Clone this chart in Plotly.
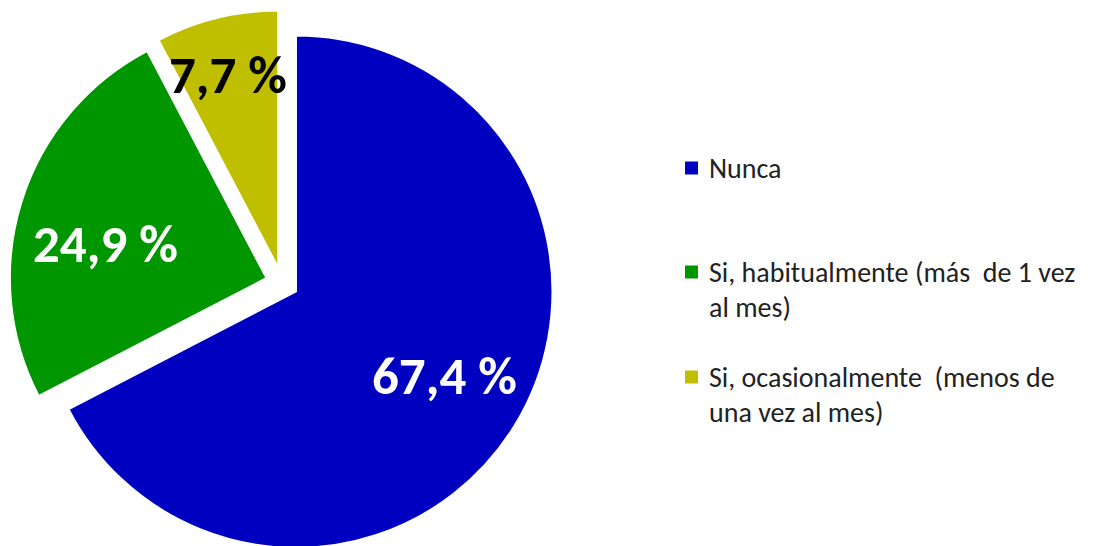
import math
import plotly.graph_objects as go

# ---- data ----
categories = ["Nunca",
              "Si, habitualmente (más  de 1 vez al mes)",
              "Si, ocasionalmente  (menos de una vez al mes)"]
values = [67.4, 24.9, 7.7]
legend_lines = [["Nunca"],
                ["Si, habitualmente (más\u00a0 de 1 vez", "al mes)"],
                ["Si, ocasionalmente\u00a0 (menos de", "una vez al mes)"]]

# ---- style ----
colors = ["#0000C0", "#009600", "#BFBF00"]
label_colors = ["white", "white", "black"]
label_radius = [0.665, 0.64, 0.775]
label_frac = [0.493, 0.44, 0.47]
OFF = 8  # page body margin
W, H = 1094, 560
cx, cy, r = 282 - OFF, 283 - OFF, 256
pull = 0.065
R = r * (1 + pull)

dom_x = [(cx - R) / W, (cx + R) / W]
dom_y = [1 - (cy + R) / H, 1 - (cy - R) / H]

fig = go.Figure(go.Pie(
    labels=categories, values=values, sort=False, direction="clockwise",
    rotation=0, pull=[pull] * len(values), textinfo="none",
    marker=dict(colors=colors, line=dict(color="white", width=1.5)),
    domain=dict(x=dom_x, y=dom_y), showlegend=False, hoverinfo="label+percent",
))

annotations = []
shapes = []
total = sum(values)
cum = 0.0
for v, col, k, fr in zip(values, label_colors, label_radius, label_frac):
    mid_slice = (cum + v / 2) / total * 2 * math.pi
    ang = (cum + v * fr) / total * 2 * math.pi
    cum += v
    # pulled slice apex
    ax = cx + pull * r * math.sin(mid_slice)
    ay = cy - pull * r * math.cos(mid_slice)
    px = ax + k * r * math.sin(ang)
    py = ay - k * r * math.cos(ang)
    annotations.append(dict(
        x=px / W, y=1 - py / H, xref="paper", yref="paper", showarrow=False,
        text=f"<b>{v:.1f} %</b>".replace(".", ","),
        font=dict(family="Carlito, Calibri, Lato, sans-serif", size=53, color=col),
        xanchor="center", yanchor="middle"))

# ---- legend (manual) ----
leg_x_sq = 685 - OFF
leg_x_txt = 707 - OFF
leg_y = [168 - OFF, 272 - OFF, 377 - OFF]
line_gap = 35
sq = 13
for lines, ly, c in zip(legend_lines, leg_y, colors):
    shapes.append(dict(type="rect", xref="paper", yref="paper",
                       x0=leg_x_sq / W, x1=(leg_x_sq + sq) / W,
                       y0=1 - (ly + sq / 2) / H, y1=1 - (ly - sq / 2) / H,
                       fillcolor=c, line=dict(width=0)))
    for i, t in enumerate(lines):
        annotations.append(dict(
            x=leg_x_txt / W, y=1 - (ly + i * line_gap) / H, xref="paper", yref="paper",
            showarrow=False, text=t, xanchor="left", yanchor="middle",
            font=dict(family="Carlito, Calibri, Lato, sans-serif", size=28, color="#222222")))

fig.update_layout(
    width=W, height=H, margin=dict(l=0, r=0, t=0, b=0),
    paper_bgcolor="white", plot_bgcolor="white",
    annotations=annotations, shapes=shapes,
)
fig.write_html("out.html")
